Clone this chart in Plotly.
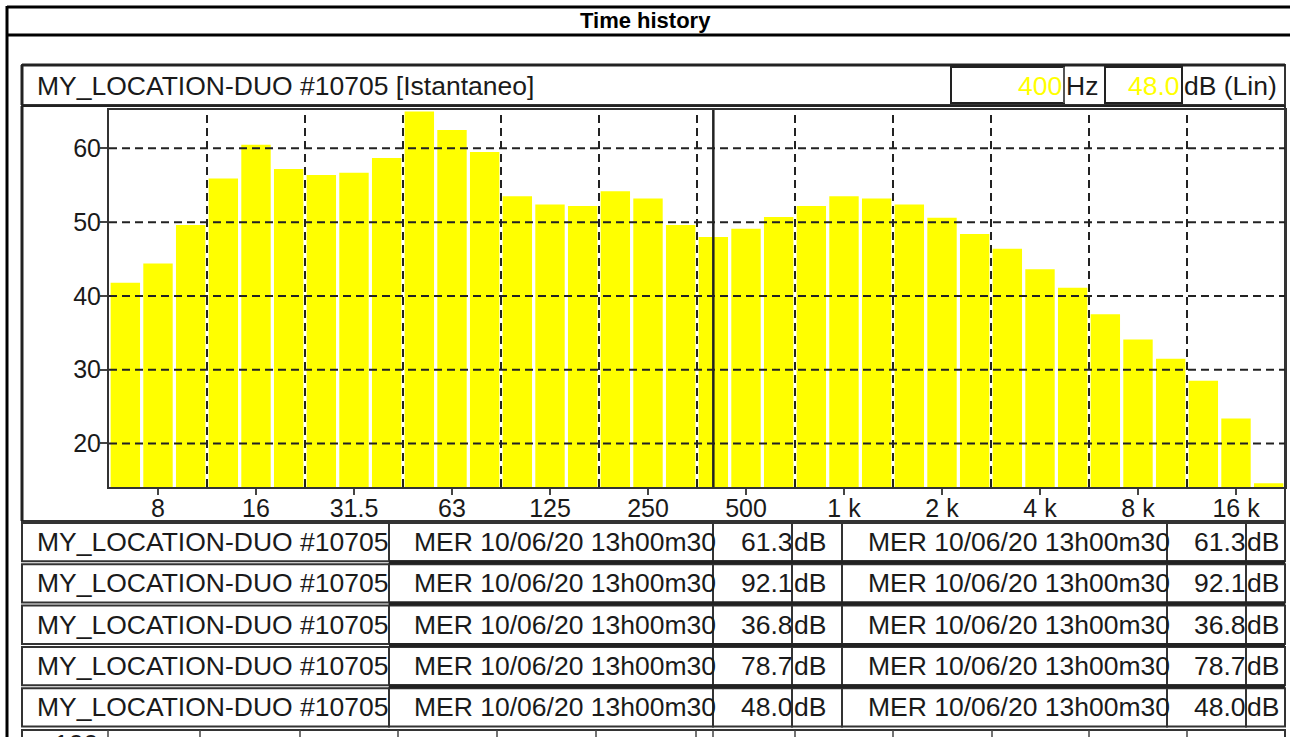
import plotly.graph_objects as go

W, H = 1290, 737

# third-octave bands and levels (dB)
bands = ['6.3', '8', '10', '12.5', '16', '20', '25', '31.5', '40', '50', '63', '80',
         '100', '125', '160', '200', '250', '315', '400', '500', '630', '800', '1 k',
         '1.25 k', '1.6 k', '2 k', '2.5 k', '3.15 k', '4 k', '5 k', '6.3 k', '8 k',
         '10 k', '12.5 k', '16 k', '20 k']
levels = [41.8, 44.4, 49.6, 55.9, 60.5, 57.2, 56.4, 56.7, 58.7, 65.0, 62.5, 59.5,
          53.5, 52.4, 52.2, 54.2, 53.2, 49.6, 48.0, 49.1, 50.7, 52.2, 53.5,
          53.2, 52.4, 50.6, 48.4, 46.4, 43.6, 41.1, 37.5, 34.1,
          31.5, 28.5, 23.4, 14.6]
tick_bands = ['8', '16', '31.5', '63', '125', '250', '500', '1 k', '2 k', '4 k', '8 k', '16 k']
grid_after = ['10', '20', '40', '80', '160', '315', '630', '1.25 k', '2.5 k', '5 k', '10 k']
y_ticks = [20, 30, 40, 50, 60]

title = 'Time history'
source = 'MY_LOCATION-DUO #10705'
mode = '[Istantaneo]'
cursor_band = '400'
cursor_level = '48.0'

row_times = ['MER 10/06/20 13h00m30'] * 5
row_values = ['61.3', '92.1', '36.8', '78.7', '48.0']

FONT = 'Liberation Sans, Arial, sans-serif'
INK = '#1a1a1a'
EDGE = '#333333'
GRID_DASH = '8px,5px'


def px(x):
    return x / W


def py(y):
    return 1 - y / H


shapes = []
annotations = []


def line(x0, y0, x1, y1, width=2, color='black', dash=None):
    shapes.append(dict(type='line', xref='paper', yref='paper',
                       x0=px(x0), y0=py(y0), x1=px(x1), y1=py(y1),
                       line=dict(color=color, width=width, dash=dash), layer='above'))


def box(x0, y0, x1, y1, width=2, color=EDGE, fill='white', layer='below'):
    shapes.append(dict(type='rect', xref='paper', yref='paper',
                       x0=px(x0), y0=py(y0), x1=px(x1), y1=py(y1),
                       line=dict(color=color, width=width), fillcolor=fill, layer=layer))


def text(x, y, s, anchor='left', size=26.5, color=INK, bold=False):
    if bold:
        s = '<b>' + s + '</b>'
    annotations.append(dict(x=px(x), y=py(y), xref='paper', yref='paper', text=s,
                            showarrow=False, xanchor=anchor, yanchor='middle',
                            font=dict(family=FONT, size=size, color=color)))


# page frame and title row
line(7, 7, 1290, 7, width=3)
line(7, 35, 1290, 35, width=3)
line(7, 6, 7, 737, width=3)
text(645, 21, title, anchor='center', size=22, bold=True, color='black')

# header bar
box(22, 65, 1285, 105)
line(22, 65, 1285, 65, width=3, color='#222')
line(22, 65, 22, 105, width=3, color='#222')
text(35, 86, source + ' ' + mode)
box(951, 67, 1064, 103, width=2, color='#222')
box(1105, 67, 1182, 103, width=2, color='#222')
line(1064, 67, 1064, 103, width=1, color='#888')
text(1064, 86, cursor_band, anchor='right', color='#ffff00')
text(1064, 86, 'Hz')
text(1182, 86, cursor_level, anchor='right', color='#ffff00')
text(1182, 86, 'dB (Lin)')

# chart panel
box(22, 106, 1285, 521)
line(22, 106, 22, 521, width=3, color='#222')
line(22, 106, 1285, 106, width=2, color='#222')

# table
col_edges = [22, 389, 713, 792, 842, 1167, 1246, 1285]
row_top = 523
row_h = 41.3
for r in range(5):
    y0 = row_top + r * row_h
    y1 = y0 + row_h - 3
    ym = (y0 + y1) / 2
    if r > 0:
        line(389, y0 - 2, 1285, y0 - 2, width=4, color='#222')
    for c in range(7):
        box(col_edges[c], y0, col_edges[c + 1], y1, width=2, color=EDGE)
    text(35, ym, source)
    text(412, ym, row_times[r])
    text(795, ym, row_values[r], anchor='right')
    text(792, ym, 'dB')
    text(866, ym, row_times[r])
    text(1248, ym, row_values[r], anchor='right')
    text(1245, ym, 'dB')

# start of the next panel, cut by the page edge
box(22, 730, 1285, 760)
for xv in [108, 200, 300, 398, 497, 596, 696, 713, 795, 893, 992, 1089, 1187]:
    line(xv, 730, xv, 737, width=1.5, color='#444')
text(100, 744, '100', anchor='right')

fig = go.Figure()
fig.add_trace(go.Bar(x=list(range(len(bands))), y=levels, marker=dict(color='#ffff00', line=dict(width=0)),
                     width=0.9, base=0, hoverinfo='skip'))

# dashed grid drawn above the bars, from the band and tick lists
for b in grid_after:
    xv = bands.index(b) + 0.5
    shapes.append(dict(type='line', xref='x', yref='y domain', x0=xv, x1=xv, y0=0, y1=1,
                       line=dict(color='#222', width=2, dash=GRID_DASH), layer='above'))
for yv in y_ticks:
    shapes.append(dict(type='line', xref='x domain', yref='y', x0=0, x1=1, y0=yv, y1=yv,
                       line=dict(color='#222', width=2, dash=GRID_DASH), layer='above'))
ci = bands.index(cursor_band)
shapes.append(dict(type='line', xref='x', yref='y domain', x0=ci, x1=ci, y0=0, y1=1,
                   line=dict(color='#222', width=2.5), layer='above'))

fig.update_layout(
    width=W, height=H,
    margin=dict(l=0, r=0, t=0, b=0),
    paper_bgcolor='white', plot_bgcolor='white',
    showlegend=False,
    font=dict(family=FONT, color=INK),
    shapes=shapes, annotations=annotations,
    xaxis=dict(domain=[px(109), px(1285)], range=[-0.5, len(bands) - 0.5],
               tickvals=[bands.index(t) for t in tick_bands], ticktext=tick_bands,
               ticks='outside', ticklen=6, tickcolor='#444', tickwidth=1.5, ticklabelstandoff=-8,
               showline=True, linecolor='#333', linewidth=2, mirror=True,
               showgrid=False, zeroline=False, tickfont=dict(size=25), fixedrange=True),
    yaxis=dict(domain=[py(487), py(110)], range=[14.1, 65.2],
               tickvals=y_ticks, ticks='outside', ticklen=7, tickcolor='#444', tickwidth=1.5, ticklabelstandoff=-6,
               showline=True, linecolor='#333', linewidth=2, mirror=True,
               showgrid=False, zeroline=False, tickfont=dict(size=25), fixedrange=True),
)

fig.write_html('out.html', config={'displayModeBar': False},
               post_script="document.body.style.margin='0';")
